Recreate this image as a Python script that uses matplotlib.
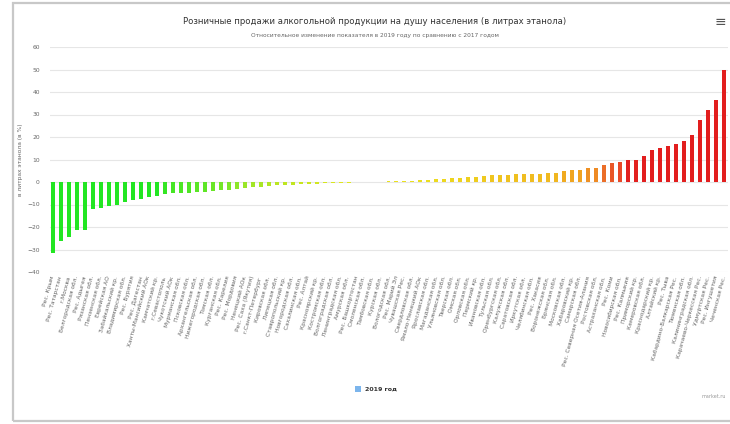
import matplotlib
matplotlib.use("Agg")
import matplotlib.pyplot as plt
import numpy as np
from matplotlib.colors import LinearSegmentedColormap, Normalize
from matplotlib.patches import Rectangle

# Данные: регионы и относительное изменение продаж (2019 к 2017), %
regions = [
    "Рес. Крым", "Рес. Татарстан", "г.Москва", "Белгородская обл.", "Рес. Адыгея",
    "Рязанская обл.", "Пензенская обл.", "Еврейская АО", "Забайкальский кр.",
    "Владимирская обл.", "Рес. Бурятия", "Рес. Дагестан", "Ханты-Мансийский АОк",
    "Камчатский кр.", "г.Севастополь", "Чукотский АОк", "Мурманская обл.",
    "Псковская обл.", "Архангельская обл.", "Нижегородская обл.", "Томская обл.",
    "Курганская обл.", "Рес. Карелия", "Рес. Мордовия", "Ненецкий АОк",
    "Рес. Саха (Якутия)", "г.Санкт-Петербург", "Кировская обл.", "Липецкая обл.",
    "Ставропольский кр.", "Новгородская обл.", "Сахалинская обл.", "Рес. Алтай",
    "Красноярский кр.", "Костромская обл.", "Волгоградская обл.", "Ленинградская обл.",
    "Амурская обл.", "Рес. Башкортостан", "Смоленская обл.", "Тамбовская обл.",
    "Курская обл.", "Вологодская обл.", "Рес. Марий Эл", "Чувашская Рес.",
    "Свердловская обл.", "Ямало-Ненецкий АОк", "Ярославская обл.", "Магаданская обл.",
    "Ульяновская обл.", "Тверская обл.", "Омская обл.", "Орловская обл.",
    "Пермский кр.", "Ивановская обл.", "Тульская обл.", "Оренбургская обл.",
    "Калужская обл.", "Саратовская обл.", "Иркутская обл.", "Челябинская обл.",
    "Рес. Хакасия", "Воронежская обл.", "Брянская обл.", "Московская обл.",
    "Хабаровский кр.", "Самарская обл.", "Рес. Северная Осетия-Алания",
    "Ростовская обл.", "Астраханская обл.", "Рес. Коми", "Новосибирская обл.",
    "Рес. Калмыкия", "Приморский кр.", "Кемеровская обл.", "Краснодарский кр.",
    "Алтайский кр.", "Рес. Тыва", "Кабардино-Балкарская Рес.", "Тюменская обл.",
    "Калининградская обл.", "Карачаево-Черкесская Рес.", "Удмуртская Рес.",
    "Рес. Ингушетия", "Чеченская Рес.",
]
values_2019 = [
    -31.5, -26.0, -24.5, -21.3, -21.2, -12.0, -11.5, -10.5, -10.4, -9.0,
    -8.1, -7.5, -6.6, -6.0, -5.5, -5.0, -4.8, -4.7, -4.4, -4.3,
    -4.0, -3.7, -3.5, -3.0, -2.6, -2.3, -2.1, -1.8, -1.5, -1.35,
    -1.2, -1.05, -0.9, -0.75, -0.6, -0.45, -0.3, -0.3, -0.15, -0.1,
    0.05, 0.1, 0.5, 0.55, 0.6, 0.65, 0.75, 0.9, 1.2, 1.5,
    1.8, 2.0, 2.2, 2.4, 2.7, 3.0, 3.1, 3.3, 3.4, 3.6,
    3.7, 3.7, 3.9, 4.1, 4.9, 5.2, 5.4, 6.1, 6.3, 7.4,
    8.4, 9.0, 9.9, 9.9, 11.6, 14.1, 15.1, 16.1, 16.7, 18.2,
    20.7, 27.4, 32.0, 36.3, 49.8,
]
y_ticks = [-40, -30, -20, -10, 0, 10, 20, 30, 40, 50, 60]

# Цветовая шкала по значению: зелёный -> жёлтый -> красный
stops = [(0.0, "#22e622"), (0.19, "#8ee62a"), (0.31, "#c8e61e"), (0.375, "#e8e620"),
         (0.5, "#eed21e"), (0.625, "#f0b820"), (0.72, "#f0a020"), (0.81, "#ec7828"),
         (0.94, "#e84a28"), (1.0, "#e21e1e")]
cmap = LinearSegmentedColormap.from_list("sales", stops)
norm = Normalize(vmin=-6, vmax=10, clip=True)
colors = [cmap(norm(v)) for v in values_2019]

W, H = 730, 424
fig = plt.figure(figsize=(W / 100, H / 100), dpi=100)

# рамка карточки
fig.patches.append(Rectangle((13 / W, 3 / H), 730 / W, 418 / H, transform=fig.transFigure,
                             fill=False, edgecolor="#c8c8c8", linewidth=1.6))

x = np.arange(len(regions))
ax = fig.add_axes([49.5 / W, 1 - 272 / H, 678 / W, 225 / H])
ax.bar(x, values_2019, width=0.5, color=colors, zorder=3)
ax.set_xlim(-0.4, len(regions) - 0.6)
ax.set_ylim(-40, 60)
ax.set_yticks(y_ticks)
ax.yaxis.grid(True, color="#e6e6e6", linewidth=0.8, zorder=0)
for s in ax.spines.values():
    s.set_visible(False)
ax.tick_params(axis="y", length=0, labelsize=4.3, labelcolor="#666666", pad=7)
ax.tick_params(axis="x", length=0, pad=3)
ax.set_xticks(x)
ax.set_xticklabels(regions, rotation=75, ha="right", va="center",
                   rotation_mode="anchor", fontsize=4.2, color="#666666")
ax.set_ylabel("в литрах этанола (в %)", fontsize=4.3, color="#666666", labelpad=3)

fig.text(375 / W, 1 - 21 / H,
         "Розничные продажи алкогольной продукции на душу населения (в литрах этанола)",
         ha="center", va="center", fontsize=6.1, color="#333333")
fig.text(375 / W, 1 - 36 / H,
         "Относительное изменение показателя в 2019 году по сравнению с 2017 годом",
         ha="center", va="center", fontsize=4.2, color="#666666")
fig.text(720 / W, 1 - 22 / H, "≡", ha="center", va="center", fontsize=10, color="#555555")

# легенда
fig.patches.append(Rectangle((355 / W, 1 - 392 / H), 6 / W, 6 / H, transform=fig.transFigure,
                             facecolor="#7cb5ec", edgecolor="none"))
fig.text(365 / W, 1 - 389 / H, "2019 год", ha="left", va="center",
         fontsize=4.5, color="#333333", fontweight="bold")
fig.text(726 / W, 1 - 397 / H, "market.ru", ha="right", va="center",
         fontsize=3.5, color="#999999")

fig.savefig("out.png", dpi=100)
